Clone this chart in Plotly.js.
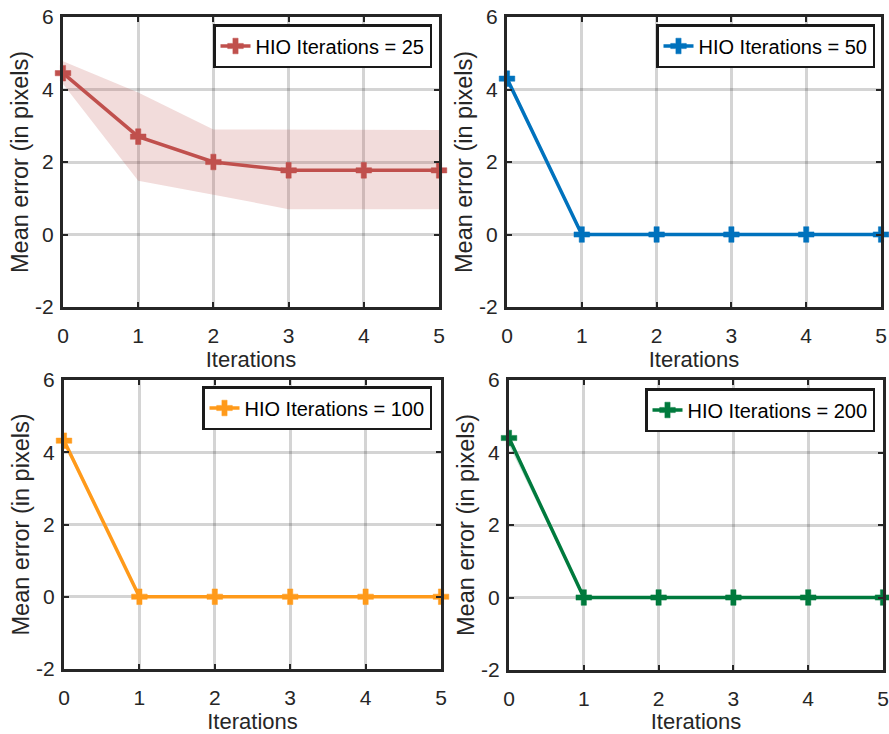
<!DOCTYPE html>
<html>
<head>
<meta charset="utf-8">
<script src="https://cdn.plot.ly/plotly-3.0.1.min.js"></script>
<style>html,body{margin:0;padding:0;background:#fff;}#chart{width:889px;height:734px;}</style>
</head>
<body>
<div id="chart"></div>
<script>
const iterations = [0, 1, 2, 3, 4, 5];
const seriesLabels = ['HIO Iterations = 25', 'HIO Iterations = 50', 'HIO Iterations = 100', 'HIO Iterations = 200'];
const mean25 = [4.45, 2.7, 2.0, 1.77, 1.77, 1.77];
const upper25 = [4.78, 3.92, 2.9, 2.9, 2.9, 2.88];
const lower25 = [4.15, 1.48, 1.1, 0.7, 0.7, 0.7];
const mean50 = [4.3, 0, 0, 0, 0, 0];
const upper50 = [4.42, 0.02, 0, 0, 0, 0];
const lower50 = [4.18, -0.02, 0, 0, 0, 0];
const mean100 = [4.32, 0, 0, 0, 0, 0];
const upper100 = [4.44, 0.02, 0, 0, 0, 0];
const lower100 = [4.2, -0.02, 0, 0, 0, 0];
const mean200 = [4.4, 0, 0, 0, 0, 0];
const upper200 = [4.52, 0.02, 0, 0, 0, 0];
const lower200 = [4.2, -0.02, 0, 0, 0, 0];
const yTickVals = [-2, 0, 2, 4, 6];
const yTickText = ['-2', '0', '2', '4', '6'];
const xTickVals = [0, 1, 2, 3, 4, 5];
const xTickText = ['0', '1', '2', '3', '4', '5'];
const xTitle = 'Iterations';
const yTitle = 'Mean error (in pixels)';

const colors = ['#C0504D', '#0072BD', '#FF9A1A', '#007A3D'];
const bandColors = ['rgba(192,80,77,0.2)', 'rgba(0,114,189,0.2)', 'rgba(255,154,26,0.25)', 'rgba(0,122,61,0.2)'];
const means = [mean25, mean50, mean100, mean200];
const uppers = [upper25, upper50, upper100, upper200];
const lowers = [lower25, lower50, lower100, lower200];

const domainsX = [[63/889, 439/889], [507/889, 881/889], [64/889, 441/889], [509/889, 883/889]];
const domainsY = [[1-307/734, 1-17/734], [1-307/734, 1-17/734], [1-669/734, 1-380/734], [1-670/734, 1-380/734]];
const legendPos = [[432/889, 1-24/734], [875/889, 1-24/734], [432/889, 1-386/734], [875/889, 1-388/734]];

const FONT = '"Liberation Sans", Arial, sans-serif';
const traces = [];
const layout = {
  width: 889, height: 734,
  margin: {l: 0, r: 0, t: 0, b: 0},
  paper_bgcolor: '#fff', plot_bgcolor: '#fff',
  font: {family: FONT, color: '#262626'},
  showlegend: true
};

for (let i = 0; i < 4; i++) {
  const sfx = i === 0 ? '' : String(i + 1);
  const xa = 'x' + sfx, ya = 'y' + sfx;
  const lg = 'legend' + sfx;
  const bandX = iterations.concat(iterations.slice().reverse());
  const bandY = uppers[i].concat(lowers[i].slice().reverse());
  traces.push({
    x: bandX, y: bandY, xaxis: xa, yaxis: ya,
    type: 'scatter', mode: 'lines', fill: 'toself',
    fillcolor: bandColors[i], line: {width: 0, color: 'rgba(0,0,0,0)'},
    showlegend: false, hoverinfo: 'skip', legend: lg
  });
  traces.push({
    x: iterations, y: means[i], xaxis: xa, yaxis: ya,
    type: 'scatter', mode: 'lines+markers', name: seriesLabels[i],
    line: {color: colors[i], width: 3.5},
    marker: {symbol: 'cross', size: 13, color: colors[i], line: {width: 0.5, color: colors[i]}},
    cliponaxis: false,
    legend: lg, showlegend: true
  });
  const axCommon = {
    showline: true, mirror: 'ticks', linecolor: '#262626', linewidth: 3,
    ticks: 'inside', ticklen: 5, tickwidth: 2, tickcolor: '#262626',
    showgrid: true, gridcolor: 'rgba(0,0,0,0.17)', gridwidth: 3,
    zeroline: false, tickfont: {size: 21, family: FONT, color: '#262626'},
    automargin: false, fixedrange: true
  };
  layout['xaxis' + sfx] = Object.assign({}, axCommon, {
    domain: domainsX[i], anchor: ya, range: [0, 5],
    tickmode: 'array', tickvals: xTickVals, ticktext: xTickText, ticklabelstandoff: 8,
    title: {text: xTitle, font: {size: 22, family: FONT, color: '#262626'}, standoff: 4}
  });
  layout['yaxis' + sfx] = Object.assign({}, axCommon, {
    domain: domainsY[i], anchor: xa, range: [-2, 6],
    tickmode: 'array', tickvals: yTickVals, ticktext: yTickText, ticklabelstandoff: 2,
    title: {text: yTitle, font: {size: 23.5, family: FONT, color: '#262626'}, standoff: 0}
  });
  layout[lg] = {
    x: legendPos[i][0], y: legendPos[i][1], xanchor: 'right', yanchor: 'top',
    xref: 'paper', yref: 'paper',
    bgcolor: '#fff', bordercolor: '#1a1a1a', borderwidth: 2.5,
    font: {size: 20, family: FONT, color: '#000'},
    itemwidth: 30, tracegroupgap: 0
  };
}

Plotly.newPlot('chart', traces, layout, {staticPlot: true, displayModeBar: false});
</script>
</body>
</html>
